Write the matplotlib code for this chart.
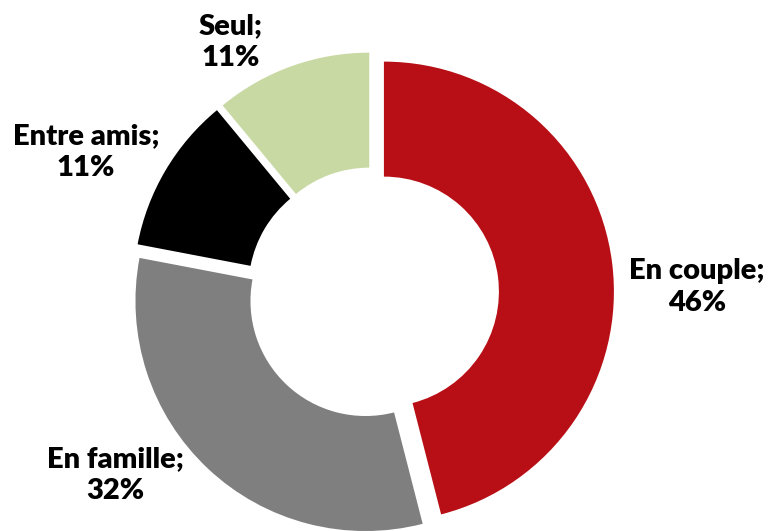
import matplotlib.pyplot as plt

# données
categories = ["En couple", "En famille", "Entre amis", "Seul"]
valeurs = [46, 32, 11, 11]
couleurs = ["#B80F16", "#7F7F7F", "#000000", "#C9D9A3"]

plt.rcParams['font.family'] = ['Lato', 'DejaVu Sans']

W, H = 770, 531
fig = plt.figure(figsize=(W / 100, H / 100), dpi=100)
ax = fig.add_axes([0, 0, 1, 1])

# centre et rayon en pixels, le rayon sert d'unité
cx, cy, R = 373, 293, 230
ax.pie(valeurs, colors=couleurs, startangle=90, counterclock=False,
       radius=1, explode=[11 / R] * len(valeurs),
       wedgeprops=dict(width=0.5, linewidth=0))

# étiquettes (positions en pixels)
positions = [(697, 287), (115, 475), (86, 152), (231, 42)]
for cat, v, (x, y) in zip(categories, valeurs, positions):
    ax.text((x - cx) / R, (cy - y) / R, f"{cat};\n{v}%", ha="center", va="center",
            fontsize=21, fontweight="heavy", linespacing=1.3)

ax.set_xlim(-cx / R, (W - cx) / R)
ax.set_ylim(-(H - cy) / R, cy / R)
ax.set_aspect('equal')
ax.axis('off')

plt.savefig("out.png", dpi=100)
